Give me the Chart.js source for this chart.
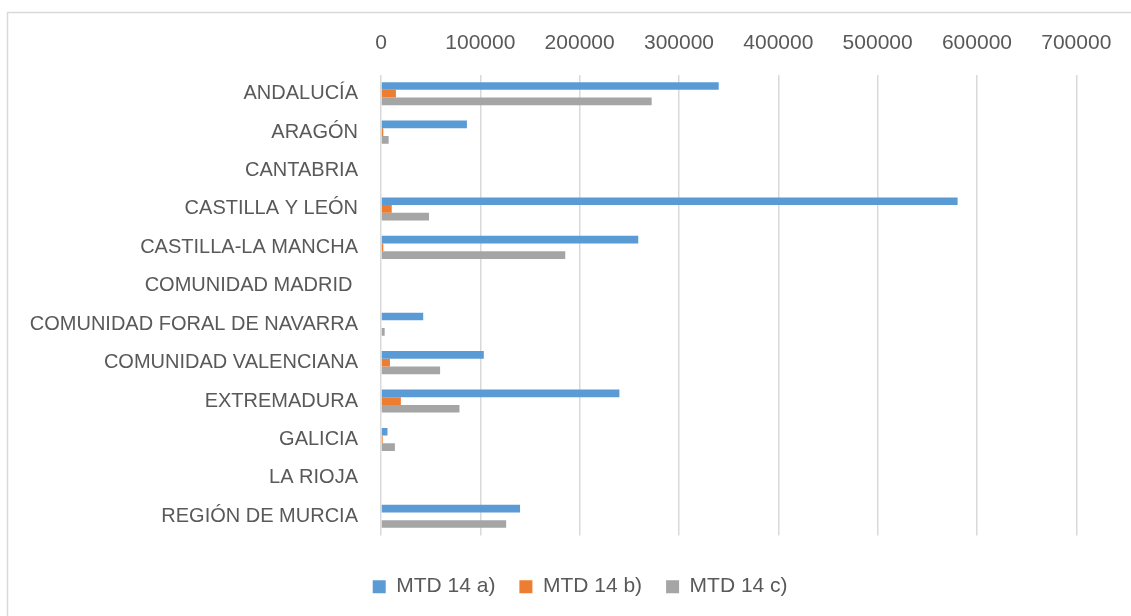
<!DOCTYPE html>
<html>
<head>
<meta charset="utf-8">
<script src="https://cdn.jsdelivr.net/npm/chart.js@4/dist/chart.umd.min.js"></script>
<style>
  html, body { margin: 0; padding: 0; background: #ffffff; }
  #wrap { position: relative; width: 1131px; height: 616px; }
</style>
</head>
<body>
<div id="wrap"><canvas id="c" width="1131" height="616"></canvas></div>
<script>
const categories = ['ANDALUCÍA', 'ARAGÓN', 'CANTABRIA', 'CASTILLA Y LEÓN', 'CASTILLA-LA MANCHA', 'COMUNIDAD MADRID ', 'COMUNIDAD FORAL DE NAVARRA', 'COMUNIDAD VALENCIANA', 'EXTREMADURA', 'GALICIA', 'LA RIOJA', 'REGIÓN DE MURCIA'];
const seriesNames = ['MTD 14 a)', 'MTD 14 b)', 'MTD 14 c)'];
const mtd14a = [340000, 86500, 0, 580500, 259000, 0, 42500, 103500, 240000, 6500, 0, 140000];
const mtd14b = [15000, 2300, 0, 10800, 2300, 0, 0, 9000, 20000, 1700, 0, 0];
const mtd14c = [272500, 7700, 0, 48300, 185500, 0, 3700, 59500, 79000, 14000, 0, 126000];
const xMin = 0, xMax = 700000, xStep = 100000;

const FONT = "'Liberation Sans', Arial, sans-serif";
const TXT = '#595959';

const borderPlugin = {
  id: 'outerBorder',
  beforeDraw(chart) {
    const ctx = chart.ctx;
    ctx.save();
    ctx.fillStyle = '#ffffff';
    ctx.fillRect(0, 0, chart.width, chart.height);
    ctx.strokeStyle = '#d9d9d9';
    ctx.lineWidth = 1.5;
    ctx.strokeRect(7.5, 12.5, 3000, 3000);
    ctx.restore();
  }
};

// the legend is centred under the whole chart frame, not under the plot only
const legendBoxPlugin = {
  id: 'legendBox',
  afterLayout(chart) {
    if (chart.legend) { chart.legend.left = 84; }
  }
};

new Chart(document.getElementById('c'), {
  type: 'bar',
  data: {
    labels: categories,
    datasets: [
      { label: seriesNames[0], data: mtd14a, backgroundColor: '#5B9BD5' },
      { label: seriesNames[1], data: mtd14b, backgroundColor: '#ED7D31' },
      { label: seriesNames[2], data: mtd14c, backgroundColor: '#A5A5A5' }
    ]
  },
  options: {
    indexAxis: 'y',
    responsive: false,
    animation: false,
    devicePixelRatio: 1,
    layout: { padding: { left: 0, right: 54.7, top: 0, bottom: 8.8 } },
    datasets: { bar: { categoryPercentage: 0.6, barPercentage: 1.0, borderWidth: 0 } },
    scales: {
      x: {
        position: 'top',
        min: xMin, max: xMax,
        grid: { color: '#d9d9d9', lineWidth: 1.5, drawTicks: false },
        border: { display: false },
        ticks: {
          stepSize: xStep,
          padding: 18.4,
          color: TXT,
          font: { family: FONT, size: 21 },
          callback: v => String(v)
        },
        afterFit(scale) { scale.height = 74.5; }
      },
      y: {
        grid: { display: false, drawTicks: false },
        border: { display: false },
        ticks: {
          padding: 23,
          color: TXT,
          font: { family: FONT, size: 20 },
          autoSkip: false
        },
        afterFit(scale) { scale.width = 381; }
      }
    },
    plugins: {
      legend: {
        position: 'bottom',
        title: { display: true, text: '', font: { size: 1 }, padding: { top: 15.5, bottom: 0 } },
        labels: {
          boxWidth: 13,
          boxHeight: 13,
          padding: 24,
          color: TXT,
          font: { family: FONT, size: 21 }
        }
      },
      tooltip: { enabled: false }
    }
  },
  plugins: [borderPlugin, legendBoxPlugin]
});
</script>
</body>
</html>
